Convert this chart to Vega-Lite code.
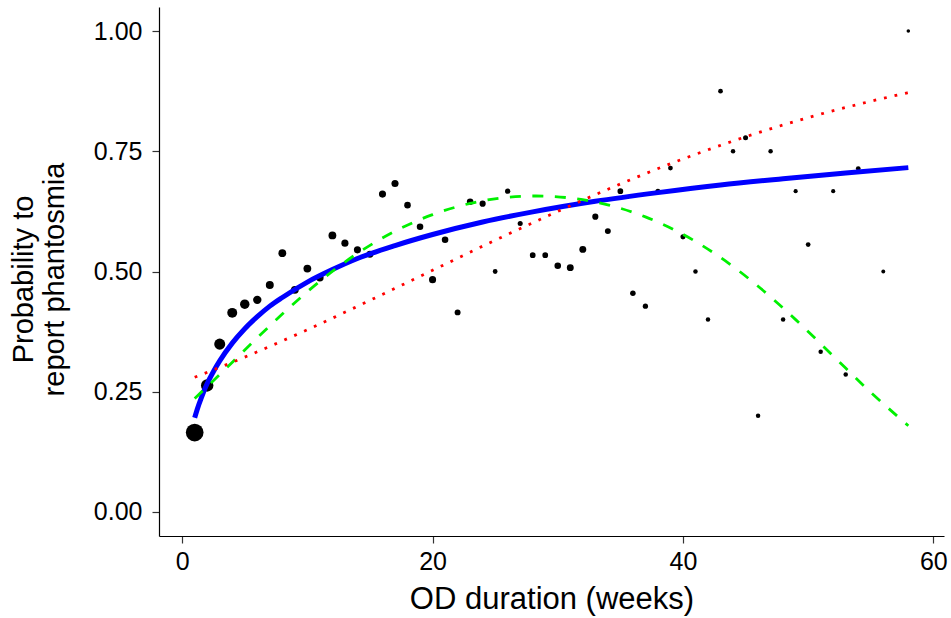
{
  "$schema": "https://vega.github.io/schema/vega-lite/v6.json",
  "width": 785,
  "height": 529,
  "autosize": {"type": "none"},
  "padding": {"left": 159, "top": 7, "right": 7, "bottom": 82},
  "background": "white",
  "config": {
    "view": {"stroke": null},
    "font": "Liberation Sans",
    "axis": {
      "grid": false,
      "domainColor": "black",
      "domainWidth": 1.2,
      "tickColor": "#333333",
      "tickWidth": 1.2,
      "tickSize": 7,
      "labelColor": "black",
      "labelFontSize": 25,
      "titleColor": "black",
      "titleFontSize": 30,
      "titleFontWeight": "normal"
    }
  },
  "datasets": {
    "obs": [
      {"week": 1, "prob": 0.165, "n": 120},
      {"week": 2, "prob": 0.263, "n": 57},
      {"week": 3, "prob": 0.349, "n": 44},
      {"week": 4, "prob": 0.414, "n": 35},
      {"week": 5, "prob": 0.432, "n": 31},
      {"week": 6, "prob": 0.441, "n": 24},
      {"week": 7, "prob": 0.472, "n": 21},
      {"week": 8, "prob": 0.538, "n": 20},
      {"week": 9, "prob": 0.462, "n": 20},
      {"week": 10, "prob": 0.506, "n": 20},
      {"week": 11, "prob": 0.487, "n": 18},
      {"week": 12, "prob": 0.575, "n": 20},
      {"week": 13, "prob": 0.559, "n": 16},
      {"week": 14, "prob": 0.545, "n": 16},
      {"week": 15, "prob": 0.536, "n": 15},
      {"week": 16, "prob": 0.661, "n": 16},
      {"week": 17, "prob": 0.683, "n": 16},
      {"week": 18, "prob": 0.638, "n": 13},
      {"week": 19, "prob": 0.593, "n": 13},
      {"week": 20, "prob": 0.483, "n": 16},
      {"week": 21, "prob": 0.566, "n": 13},
      {"week": 22, "prob": 0.415, "n": 10},
      {"week": 23, "prob": 0.645, "n": 13},
      {"week": 24, "prob": 0.641, "n": 11},
      {"week": 25, "prob": 0.5, "n": 5},
      {"week": 26, "prob": 0.667, "n": 7},
      {"week": 27, "prob": 0.6, "n": 6},
      {"week": 28, "prob": 0.534, "n": 9},
      {"week": 29, "prob": 0.534, "n": 9},
      {"week": 30, "prob": 0.512, "n": 13},
      {"week": 31, "prob": 0.508, "n": 15},
      {"week": 32, "prob": 0.546, "n": 15},
      {"week": 33, "prob": 0.614, "n": 11},
      {"week": 34, "prob": 0.584, "n": 10},
      {"week": 35, "prob": 0.667, "n": 9},
      {"week": 36, "prob": 0.455, "n": 8},
      {"week": 37, "prob": 0.428, "n": 7},
      {"week": 38, "prob": 0.667, "n": 6},
      {"week": 39, "prob": 0.715, "n": 5},
      {"week": 40, "prob": 0.572, "n": 6},
      {"week": 41, "prob": 0.5, "n": 4},
      {"week": 42, "prob": 0.4, "n": 4},
      {"week": 43, "prob": 0.875, "n": 5},
      {"week": 44, "prob": 0.75, "n": 4},
      {"week": 45, "prob": 0.778, "n": 6},
      {"week": 46, "prob": 0.2, "n": 4},
      {"week": 47, "prob": 0.75, "n": 4},
      {"week": 48, "prob": 0.4, "n": 4},
      {"week": 49, "prob": 0.667, "n": 3},
      {"week": 50, "prob": 0.556, "n": 5},
      {"week": 51, "prob": 0.333, "n": 4},
      {"week": 52, "prob": 0.667, "n": 3},
      {"week": 53, "prob": 0.286, "n": 4},
      {"week": 54, "prob": 0.714, "n": 5},
      {"week": 56, "prob": 0.5, "n": 2},
      {"week": 58, "prob": 1.0, "n": 1}
    ],
    "logfit": [
      {"week": 1, "fit": 0.196},
      {"week": 1.25, "fit": 0.217},
      {"week": 1.5, "fit": 0.235},
      {"week": 2, "fit": 0.267},
      {"week": 2.5, "fit": 0.292},
      {"week": 3, "fit": 0.314},
      {"week": 4, "fit": 0.351},
      {"week": 5, "fit": 0.381},
      {"week": 6, "fit": 0.406},
      {"week": 7, "fit": 0.428},
      {"week": 8, "fit": 0.446},
      {"week": 10, "fit": 0.478},
      {"week": 12, "fit": 0.504},
      {"week": 14, "fit": 0.527},
      {"week": 17, "fit": 0.554},
      {"week": 20, "fit": 0.577},
      {"week": 24, "fit": 0.603},
      {"week": 28, "fit": 0.624},
      {"week": 33, "fit": 0.646},
      {"week": 38, "fit": 0.664},
      {"week": 43, "fit": 0.680},
      {"week": 48, "fit": 0.693},
      {"week": 53, "fit": 0.705},
      {"week": 58, "fit": 0.716}
    ],
    "linfit": [
      {"week": 1, "fit": 0.280},
      {"week": 5, "fit": 0.322},
      {"week": 10, "fit": 0.379},
      {"week": 15, "fit": 0.440},
      {"week": 20, "fit": 0.5025},
      {"week": 25, "fit": 0.565},
      {"week": 30, "fit": 0.625},
      {"week": 35, "fit": 0.682},
      {"week": 40, "fit": 0.734},
      {"week": 45, "fit": 0.780},
      {"week": 50, "fit": 0.820},
      {"week": 55, "fit": 0.854},
      {"week": 58, "fit": 0.872}
    ],
    "quadfit": [
      {"week": 1, "fit": 0.2361},
      {"week": 3, "fit": 0.2857},
      {"week": 5, "fit": 0.3367},
      {"week": 8, "fit": 0.4115},
      {"week": 11, "fit": 0.4797},
      {"week": 14, "fit": 0.5377},
      {"week": 17, "fit": 0.5839},
      {"week": 20, "fit": 0.6182},
      {"week": 23, "fit": 0.6416},
      {"week": 26, "fit": 0.6542},
      {"week": 28.26, "fit": 0.657},
      {"week": 31, "fit": 0.6529},
      {"week": 34, "fit": 0.6386},
      {"week": 37, "fit": 0.6136},
      {"week": 40, "fit": 0.5773},
      {"week": 43, "fit": 0.5291},
      {"week": 46, "fit": 0.4694},
      {"week": 49, "fit": 0.3999},
      {"week": 52, "fit": 0.3244},
      {"week": 55, "fit": 0.2488},
      {"week": 58, "fit": 0.1792}
    ]
  },
  "encoding": {
    "x": {
      "field": "week",
      "type": "quantitative",
      "scale": {"domain": [-1.85, 60.85], "nice": false, "zero": false},
      "axis": {"values": [0, 20, 40, 60], "title": "OD duration (weeks)", "labelPadding": 6, "titlePadding": 10, "titleFontSize": 31}
    }
  },
  "layer": [
    {
      "data": {"name": "obs"},
      "mark": {"type": "circle", "color": "black", "opacity": 1},
      "encoding": {
        "y": {
          "field": "prob",
          "type": "quantitative",
          "scale": {"domain": [-0.05, 1.05], "nice": false, "zero": false},
          "axis": {"values": [0, 0.25, 0.5, 0.75, 1], "format": ".2f", "title": ["Probability to", "report phantosmia"], "labelPadding": 10, "titleX": -121, "titleY": 272, "titleBaseline": "bottom", "titleLineHeight": 31, "titleFontSize": 29}
        },
        "size": {
          "field": "n",
          "type": "quantitative",
          "scale": {"type": "linear", "domain": [1, 120], "range": [12.6, 314], "zero": false},
          "legend": null
        }
      }
    },
    {
      "data": {"name": "logfit"},
      "mark": {"type": "line", "color": "#0000FF", "strokeWidth": 5, "interpolate": "monotone"},
      "encoding": {"y": {"field": "fit", "type": "quantitative"}}
    },
    {
      "data": {"name": "quadfit"},
      "mark": {"type": "line", "color": "#00F000", "strokeWidth": 2.8, "strokeDash": [11, 11.5], "interpolate": "monotone"},
      "encoding": {"y": {"field": "fit", "type": "quantitative"}}
    },
    {
      "data": {"name": "linfit"},
      "mark": {"type": "line", "color": "#FF0000", "strokeWidth": 2.8, "strokeDash": [2.8, 8], "interpolate": "monotone"},
      "encoding": {"y": {"field": "fit", "type": "quantitative"}}
    }
  ]
}
